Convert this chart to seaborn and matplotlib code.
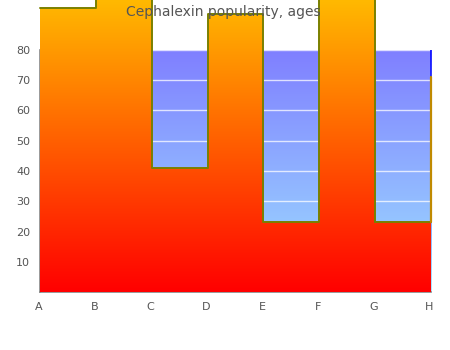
import numpy as np
import matplotlib
matplotlib.use("Agg")
import matplotlib.pyplot as plt
import matplotlib.transforms as mtransforms
from matplotlib.collections import LineCollection
import seaborn as sns

# ---- data ----
categories = ["A", "B", "C", "D", "E", "F", "G", "H"]
values = [94, 133, 41, 92, 23, 133, 23, 71]
y_ticks = [10, 20, 30, 40, 50, 60, 70, 80]
title = "Cephalexin popularity, ages"

sns.set_theme(style="white")
plt.rcParams["font.family"] = ["DejaVu Sans"]

W, H = 450, 350
fig = plt.figure(figsize=(4.5, 3.5), dpi=100)
left, right, bottom, top80 = 40, 431, 292, 50
ppu = (bottom - top80) / 80.0

ax = fig.add_axes([left / W, (H - bottom) / H, (right - left) / W, (bottom - top80) / H])
ov = fig.add_axes([left / W, (H - bottom) / H, (right - left) / W, bottom / H])

xs = np.arange(len(categories))
n = len(categories) - 1

# background gradient (blue)
g = np.linspace(0, 1, 256)[:, None]
top_c = np.array([0.5, 0.5, 1.0])
bot_c = np.array([0.62, 0.88, 1.0])
bg = (bot_c[None, None, :] * (1 - g[..., None]) + top_c[None, None, :] * g[..., None])
ax.imshow(bg, extent=[0, n, 0, 80], origin="lower", aspect="auto", zorder=0)
for t in y_ticks:
    ax.axhline(t, color="white", lw=1, alpha=0.75, zorder=1)
ax.set_xlim(0, n)
ax.set_ylim(0, 80)
ax.set_yticks(y_ticks)
ax.set_yticklabels([str(t) for t in y_ticks])
ax.set_xticks(xs)
ax.set_xticklabels(categories)
ax.tick_params(axis="both", length=0, labelsize=8, labelcolor="#555555")
ax.tick_params(axis="y", pad=7)
ax.tick_params(axis="x", pad=7)
shift = mtransforms.ScaledTranslation(-1.5 / 100, 0, fig.dpi_scale_trans)
for lab in ax.get_xticklabels():
    lab.set_transform(lab.get_transform() + shift)
for s in ["top", "right"]:
    ax.spines[s].set_visible(False)
for s in ["left", "bottom"]:
    ax.spines[s].set_color("#888888")
    ax.spines[s].set_linewidth(1.2)
ax.set_facecolor("none")

# right edge gradient line
yy = np.linspace(0, 80, 100)
segs = [[(n, yy[i]), (n, yy[i + 1])] for i in range(len(yy) - 1)]
cols = [tuple(bot_c * (1 - v / 80) + np.array([0, 0, 1.0]) * (v / 80)) for v in yy[:-1]]
ax.add_collection(LineCollection(segs, colors=cols, lw=1.2, clip_on=False, zorder=2))

# overlay step area with red->yellow gradient
ov.set_xlim(0, n)
ov.set_ylim(0, bottom / ppu)
ov.axis("off")
vmax = max(values)
gg = np.linspace(0, 1, 256)
grad = np.zeros((256, 1, 3))
grad[:, 0, 0] = 1.0
grad[:, 0, 1] = gg
poly = ov.fill_between(xs, 0, values, step="post", color="none", lw=0)
im = ov.imshow(grad, extent=[0, n, 0, vmax], origin="lower", aspect="auto", zorder=1)
im.set_clip_path(poly.get_paths()[0], transform=ov.transData)
sns.lineplot(x=xs[:-1], y=values[:-1], drawstyle="steps-post", color="#7a8000",
             lw=1.4, ax=ov, zorder=3, clip_on=False)
ov.plot([xs[-2], xs[-1]], [values[-2], values[-2]], color="#7a8000", lw=1.4, zorder=3, clip_on=False)
ov.plot([xs[-1], xs[-1]], [values[-2], values[-1]], color="#c08a00", lw=1.6, zorder=3, clip_on=False)
ov.set_xlabel("")
ov.set_ylabel("")

fig.text(0.497, 1 - 12 / H, title, ha="center", va="center", color="#555555", fontsize=10, zorder=10)

fig.savefig("out.png", dpi=100)
